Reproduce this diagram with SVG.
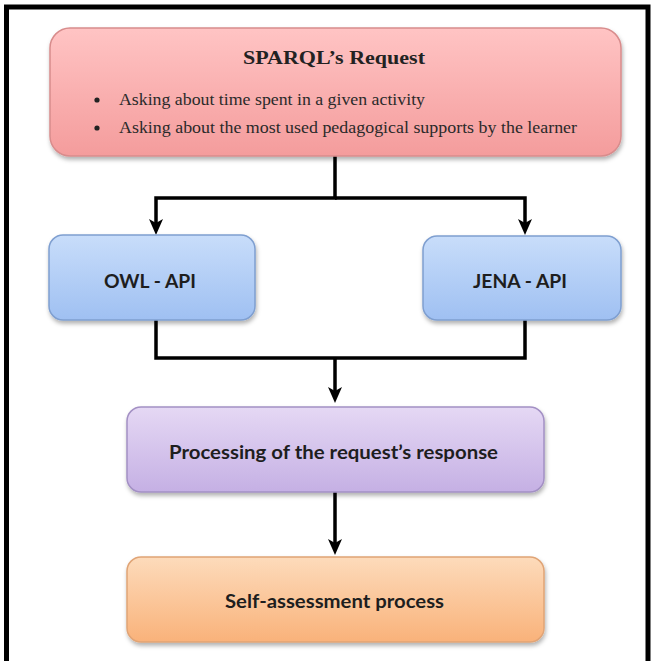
<svg xmlns="http://www.w3.org/2000/svg" width="654" height="661" viewBox="0 0 654 661">
  <style>
    .box { stroke-width: 1.5; filter: url(#shadow); }
    .title { font-family: "Liberation Serif", "Times New Roman", serif; font-weight: bold; font-size: 19.5px; fill: #222; }
    .bullet { font-family: "Liberation Serif", "Times New Roman", serif; font-size: 16.5px; fill: #2a2a2a; }
    .label { font-family: Lato, "Open Sans", "Liberation Sans", sans-serif; font-weight: bold; font-size: 18.5px; fill: #1e1e1e; }
    .wire { fill: none; stroke: #000; stroke-width: 3.5; }
  </style>
  <defs>
    <filter id="shadow" x="-10%" y="-10%" width="120%" height="130%">
      <feDropShadow dx="1" dy="3" stdDeviation="2" flood-color="#000" flood-opacity="0.3"/>
    </filter>
    <linearGradient id="gPink" x1="0" y1="0" x2="0" y2="1">
      <stop offset="0" stop-color="#ffc4c4"/>
      <stop offset="1" stop-color="#f49c9c"/>
    </linearGradient>
    <linearGradient id="gBlue" x1="0" y1="0" x2="0" y2="1">
      <stop offset="0" stop-color="#c8ddfa"/>
      <stop offset="1" stop-color="#9fc0f2"/>
    </linearGradient>
    <linearGradient id="gPurple" x1="0" y1="0" x2="0" y2="1">
      <stop offset="0" stop-color="#e5d8f4"/>
      <stop offset="1" stop-color="#c5b0e4"/>
    </linearGradient>
    <linearGradient id="gOrange" x1="0" y1="0" x2="0" y2="1">
      <stop offset="0" stop-color="#fddbbb"/>
      <stop offset="1" stop-color="#f9b27a"/>
    </linearGradient>
    <marker id="arrow" viewBox="0 0 16 16" refX="6" refY="8" markerWidth="16" markerHeight="16" markerUnits="userSpaceOnUse" orient="auto">
      <path d="M0,1 L16,8 L0,15 L4,8 Z" fill="#000"/>
    </marker>
  </defs>

  <rect width="654" height="661" fill="#fff"/>

  <!-- outer frame -->
  <path d="M6.5,661 V7 H648 V661" fill="none" stroke="#000" stroke-width="5"/>

  <!-- connectors -->
  <g id="connectors" class="wire">
    <path d="M335,156 V198 H156 V225" marker-end="url(#arrow)"/>
    <path d="M335,198 H525 V225" marker-end="url(#arrow)"/>
    <path d="M156,320 V358 H525 V320"/>
    <path d="M335,358 V393" marker-end="url(#arrow)"/>
    <path d="M335,492 V545" marker-end="url(#arrow)"/>
  </g>

  <g id="sparql-request">
    <rect class="box" x="50" y="28" width="571" height="128" rx="20" fill="url(#gPink)" stroke="#d88c8c"/>
    <text class="title" x="243" y="64" textLength="182" lengthAdjust="spacingAndGlyphs">SPARQL’s Request</text>
    <circle cx="97" cy="100" r="2.6" fill="#222"/>
    <text class="bullet" x="119" y="105" textLength="306" lengthAdjust="spacingAndGlyphs">Asking about time spent in a given activity</text>
    <circle cx="97" cy="128" r="2.6" fill="#222"/>
    <text class="bullet" x="119" y="133" textLength="458" lengthAdjust="spacingAndGlyphs">Asking about the most used pedagogical supports by the learner</text>
  </g>

  <g id="owl-api">
    <rect class="box" x="49" y="235" width="206" height="85" rx="14" fill="url(#gBlue)" stroke="#7f9fd0"/>
    <text class="label" x="104" y="288" textLength="92" lengthAdjust="spacingAndGlyphs">OWL - API</text>
  </g>

  <g id="jena-api">
    <rect class="box" x="423" y="236" width="198" height="84" rx="14" fill="url(#gBlue)" stroke="#7f9fd0"/>
    <text class="label" x="473" y="288" textLength="94" lengthAdjust="spacingAndGlyphs">JENA - API</text>
  </g>

  <g id="response-processing">
    <rect class="box" x="127" y="407" width="417" height="85" rx="14" fill="url(#gPurple)" stroke="#a390c4"/>
    <text class="label" x="169" y="459" textLength="329" lengthAdjust="spacingAndGlyphs">Processing of the request’s response</text>
  </g>

  <g id="self-assessment">
    <rect class="box" x="127" y="557" width="417" height="85" rx="14" fill="url(#gOrange)" stroke="#e0a476"/>
    <text class="label" x="225" y="608" textLength="219" lengthAdjust="spacingAndGlyphs">Self-assessment process</text>
  </g>
</svg>
